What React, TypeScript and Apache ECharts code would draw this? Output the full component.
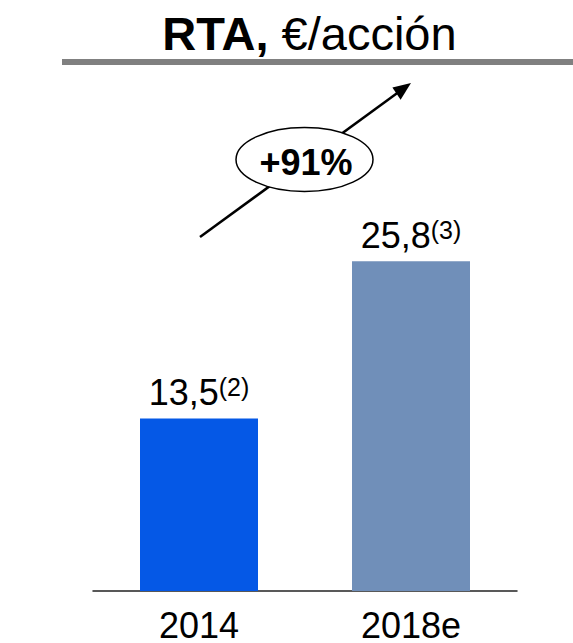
import React, { useEffect, useRef } from "react";
import * as echarts from "echarts";

const categories = ["2014", "2018e"];
const values = [13.5, 25.8];
const valueLabels = ["13,5", "25,8"];
const footnotes = ["(2)", "(3)"];
const barColors = ["#0558E6", "#708FB9"];
const growthLabel = "+91%";

const FONT = "'Liberation Sans', Arial, Helvetica, sans-serif";

export default function App() {
  const ref = useRef<HTMLDivElement>(null);
  useEffect(() => {
    if (!ref.current) return;
    const chart = echarts.init(ref.current, undefined, { renderer: "svg" });
    const option: any = {
      animation: false,
      backgroundColor: "#ffffff",
      grid: { left: 93, right: 56, top: 207.5, bottom: 50, containLabel: false },
      xAxis: {
        type: "category",
        data: categories,
        axisLine: { show: true, lineStyle: { color: "#222222", width: 1.5 } },
        axisTick: { show: false },
        axisLabel: { color: "#000", fontSize: 36, lineHeight: 28, fontFamily: FONT, margin: 20 },
      },
      yAxis: { type: "value", min: 0, max: 30, show: false, splitLine: { show: false } },
      series: [
        {
          type: "bar",
          barWidth: 118,
          data: values.map((v, i) => ({
            value: v,
            itemStyle: { color: barColors[i] },
            label: {
              show: true,
              position: "top",
              distance: 8,
              formatter: `{a|${valueLabels[i]}}{b|${footnotes[i]}}`,
              rich: {
                a: { fontSize: 36, fontFamily: FONT, color: "#000", lineHeight: 36 },
                b: { fontSize: 25, fontFamily: FONT, color: "#000", verticalAlign: "top", lineHeight: 20 },
              },
            },
          })),
        },
      ],
      graphic: [
        {
          type: "text",
          x: 309.5,
          y: 33,
          style: {
            text: "{b|RTA, }{r|€/acción}",
            align: "center",
            verticalAlign: "middle",
            rich: {
              b: { fontSize: 47, fontWeight: "bold", fontFamily: FONT, fill: "#000" },
              r: { fontSize: 47, fontFamily: FONT, fill: "#000" },
            },
          },
        },
        {
          type: "rect",
          shape: { x: 62, y: 59, width: 511, height: 6 },
          style: { fill: "#808080" },
        },
        {
          type: "line",
          shape: { x1: 200, y1: 237, x2: 398, y2: 92.5 },
          style: { stroke: "#000", lineWidth: 2.5 },
        },
        {
          type: "polygon",
          shape: { points: [[411, 83], [400.6, 99.8], [392.4, 87.4]] },
          style: { fill: "#000" },
        },
        {
          type: "ellipse",
          shape: { cx: 304.5, cy: 159.5, rx: 68.5, ry: 32 },
          style: { fill: "#fff", stroke: "#000", lineWidth: 1.5 },
        },
        {
          type: "text",
          x: 306,
          y: 162,
          style: {
            text: growthLabel,
            align: "center",
            verticalAlign: "middle",
            fontSize: 36,
            fontWeight: "bold",
            fontFamily: FONT,
            fill: "#000",
          },
        },
      ],
    };
    chart.setOption(option);
    return () => chart.dispose();
  }, []);
  return (
    <div
      ref={ref}
      style={{ position: "fixed", left: 0, top: 0, width: 573, height: 643 }}
    />
  );
}
